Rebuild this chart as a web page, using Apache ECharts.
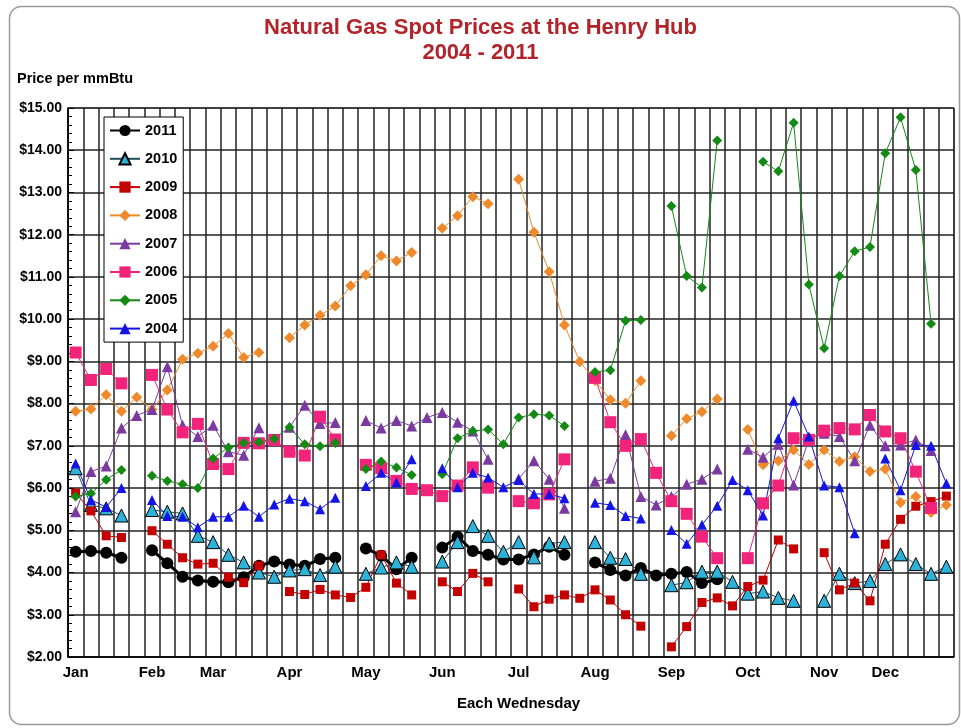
<!DOCTYPE html>
<html>
<head>
<meta charset="utf-8">
<script src="https://cdn.jsdelivr.net/npm/echarts@6/dist/echarts.min.js"></script>
<style>
html,body{margin:0;padding:0;background:#fff;}
#chart{width:961px;height:728px;}
</style>
</head>
<body>
<div id="chart"></div>
<script>
// Month labels and number of weekly slots per month
const months = ['Jan','Feb','Mar','Apr','May','Jun','Jul','Aug','Sep','Oct','Nov','Dec'];
const weeksPerMonth = [5,4,5,5,5,5,5,5,5,5,4,5];
const years = ['2011','2010','2009','2008','2007','2006','2005','2004'];

const s2011 = [4.49,4.51,4.47,4.35,null, 4.53,4.22,3.90,3.81, 3.78,3.77,3.89,4.16,4.26, 4.19,4.16,4.32,4.35,null,
  4.57,4.40,4.08,4.35,null, 4.59,4.85,4.51,4.42,4.31, 4.31,4.43,4.61,4.42,null, 4.24,4.06,3.93,4.11,3.93,
  3.97,4.01,3.75,3.84,null, null,null,null,null,null, null,null,null,null, null,null,null,null,null];
const s2010 = [6.47,5.60,5.52,5.35,null, 5.48,5.44,5.40,4.87, 4.72,4.42,4.24,4.00,3.90, 4.05,4.08,3.94,4.14,null,
  3.97,4.12,4.24,4.14,null, 4.26,4.72,5.10,4.87,4.49, 4.72,4.36,4.69,4.72,null, 4.72,4.35,4.32,3.97,null,
  3.70,3.77,4.02,4.02,3.78, 3.50,3.55,3.40,3.33,null, 3.33,3.97,3.75,3.80, 4.20,4.43,4.20,3.97,4.14];
const s2009 = [5.88,5.46,4.87,4.83,null, 4.99,4.67,4.35,4.20, 4.22,3.89,3.76,4.16,null, 3.55,3.48,3.60,3.47,3.41,
  3.65,4.42,3.75,3.47,null, 3.78,3.55,3.98,3.78,null, 3.61,3.19,3.37,3.47,3.39, 3.59,3.35,3.00,2.73,null,
  2.24,2.72,3.29,3.40,3.21, 3.67,3.82,4.77,4.56,null, 4.47,3.59,3.75,3.33, 4.67,5.26,5.57,5.68,5.81];
const s2008 = [7.82,7.87,8.21,7.82,8.15, 7.86,8.32,9.05,9.19, 9.36,9.66,9.09,9.21,null, 9.56,9.86,10.09,10.31,10.79,
  11.05,11.50,11.38,11.58,null, 12.15,12.45,12.90,12.73,null, 13.31,12.06,11.12,9.86,8.99, 8.55,8.09,8.01,8.54,null,
  7.24,7.64,7.81,8.11,null, 7.39,6.55,6.65,6.90,6.56, 6.90,6.63,6.74,6.39, 6.45,5.66,5.80,5.42,5.60];
const s2007 = [5.44,6.39,6.52,7.42,7.72, 7.86,8.87,7.49,7.22, 7.49,6.86,6.78,7.43,null, 7.44,7.96,7.53,7.55,null,
  7.60,7.42,7.60,7.47,7.67, 7.79,7.56,7.35,6.68,null, 6.22,6.65,6.21,5.52,null, 6.16,6.23,7.26,5.80,5.60,
  5.80,6.09,6.21,6.45,null, 6.92,6.73,7.04,6.07,7.15, 7.30,7.22,6.65,7.49, 7.00,7.02,7.14,6.89,null];
const s2006 = [9.21,8.56,8.82,8.48,null, 8.68,7.86,7.32,7.52, 6.57,6.45,7.07,7.06,7.14, 6.86,6.77,7.69,7.15,null,
  6.55,6.47,6.17,5.98,5.95, 5.81,6.06,6.49,6.01,null, 5.69,5.64,5.85,6.68,null, 8.61,7.56,7.00,7.16,6.36,
  5.69,5.39,4.85,4.34,null, 4.34,5.64,6.06,7.18,7.14, 7.36,7.42,7.39,7.73, 7.34,7.18,6.39,5.53,null];
const s2005 = [5.80,5.87,6.20,6.43,null, 6.29,6.17,6.09,6.00, 6.70,6.96,7.07,7.09,7.17, 7.44,7.04,6.99,7.07,null,
  6.45,6.63,6.49,6.31,null, 6.33,7.18,7.35,7.39,7.04, 7.67,7.75,7.72,7.47,null, 8.75,8.79,9.96,9.98,null,
  12.68,11.02,10.75,14.23,null, null,13.73,13.50,14.65,10.82, 9.31,11.02,11.61,11.71, 13.93,14.78,13.53,9.89,null];
const s2004 = [6.58,5.72,5.55,6.00,null, 5.72,5.34,5.32,5.07, 5.32,5.32,5.58,5.32,5.61, 5.75,5.69,5.50,5.77,null,
  6.05,6.36,6.13,6.68,null, 6.47,6.02,6.36,6.25,6.02, 6.19,5.86,5.86,5.76,null, 5.65,5.60,5.34,5.28,null,
  5.01,4.68,5.13,5.58,6.19, 5.95,5.35,7.18,8.07,7.22, 6.06,6.02,4.93,null, 6.70,5.95,7.02,7.00,6.11];

const categories = [];
months.forEach((m, i) => { for (let w = 1; w <= weeksPerMonth[i]; w++) categories.push(m + '-' + w); });

const styles = {
  '2011': {color:'#000000', line:'#000000', lw:3, symbol:'circle', size:12},
  '2010': {color:'#2db3d9', line:'#1d4f5c', lw:1, symbol:'triangle', size:13, border:'#000'},
  '2009': {color:'#c40000', line:'#c40000', lw:1, symbol:'rect', size:9},
  '2008': {color:'#ef8a2c', line:'#ef8a2c', lw:1, symbol:'diamond', size:11},
  '2007': {color:'#7b3aa0', line:'#7b3aa0', lw:1, symbol:'triangle', size:11},
  '2006': {color:'#f2237a', line:'#f2237a', lw:1, symbol:'rect', size:12},
  '2005': {color:'#138a13', line:'#138a13', lw:1, symbol:'diamond', size:10},
  '2004': {color:'#1414e6', line:'#1414e6', lw:1, symbol:'triangle', size:10}
};
const dataByYear = {'2011':s2011,'2010':s2010,'2009':s2009,'2008':s2008,'2007':s2007,'2006':s2006,'2005':s2005,'2004':s2004};

const font = '"Liberation Sans", Arial, sans-serif';
const chart = echarts.init(document.getElementById('chart'));
chart.setOption({
  animation: false,
  backgroundColor: '#ffffff',
  graphic: [{
    type: 'rect', left: 7, top: 4, z: -10,
    shape: {width: 950, height: 718, r: 12},
    style: {fill: 'none', stroke: '#9a9a9a', lineWidth: 1.5}
  }],
  title: [
    {text: 'Natural Gas Spot Prices at the Henry Hub\n2004 - 2011', left: 'center', top: 10,
     textStyle: {fontFamily: font, fontSize: 22, fontWeight: 'bold', color: '#b3242a', lineHeight: 25}},
    {text: 'Price per mmBtu', left: 12, top: 66,
     textStyle: {fontFamily: font, fontSize: 14.5, fontWeight: 'bold', color: '#000'}},
    {text: 'Each Wednesday', left: 452, top: 691,
     textStyle: {fontFamily: font, fontSize: 15, fontWeight: 'bold', color: '#000'}}
  ],
  legend: {
    orient: 'vertical', left: 104, top: 117,
    padding: [6, 6, 6, 5], itemGap: 13.3, itemWidth: 30, itemHeight: 14,
    backgroundColor: '#fff', borderColor: '#000', borderWidth: 1,
    textStyle: {fontFamily: font, fontSize: 14.5, fontWeight: 'bold', color: '#000', lineHeight: 15},
    data: years
  },
  grid: {left: 68, right: 7, top: 108, bottom: 71, show: true, borderColor: '#333', borderWidth: 1, backgroundColor: '#fff'},
  xAxis: {
    type: 'category', data: categories, boundaryGap: true,
    axisLine: {lineStyle: {color: '#000', width: 1.5}},
    axisTick: {show: false},
    axisLabel: {interval: 0, margin: 8, fontFamily: font, fontSize: 15, fontWeight: 'bold', color: '#000',
      formatter: v => v.endsWith('-1') ? v.split('-')[0] : ''},
    splitLine: {show: true, interval: 0, lineStyle: {color: '#222', width: 1.5}}
  },
  yAxis: {
    type: 'value', min: 2, max: 15, interval: 1,
    axisLine: {show: true, lineStyle: {color: '#000', width: 1.5}},
    axisTick: {show: true, inside: true, length: 6, lineStyle: {color: '#000'}},
    minorTick: {show: true, splitNumber: 5, length: 4, lineStyle: {color: '#000'}},
    axisLabel: {margin: 6, fontFamily: font, fontSize: 14, fontWeight: 'bold', color: '#000',
      formatter: v => '$' + v.toFixed(2)},
    splitLine: {show: true, lineStyle: {color: '#222', width: 1.5}}
  },
  series: years.map(y => {
    const s = styles[y];
    return {
      name: y, type: 'line', data: dataByYear[y],
      symbol: s.symbol, symbolSize: s.size, showSymbol: true,
      connectNulls: false,
      itemStyle: {color: s.color, borderColor: s.border || s.color, borderWidth: s.border ? 1 : 0},
      lineStyle: {color: s.line, width: s.lw},
      emphasis: {disabled: true}
    };
  })
});
</script>
</body>
</html>
